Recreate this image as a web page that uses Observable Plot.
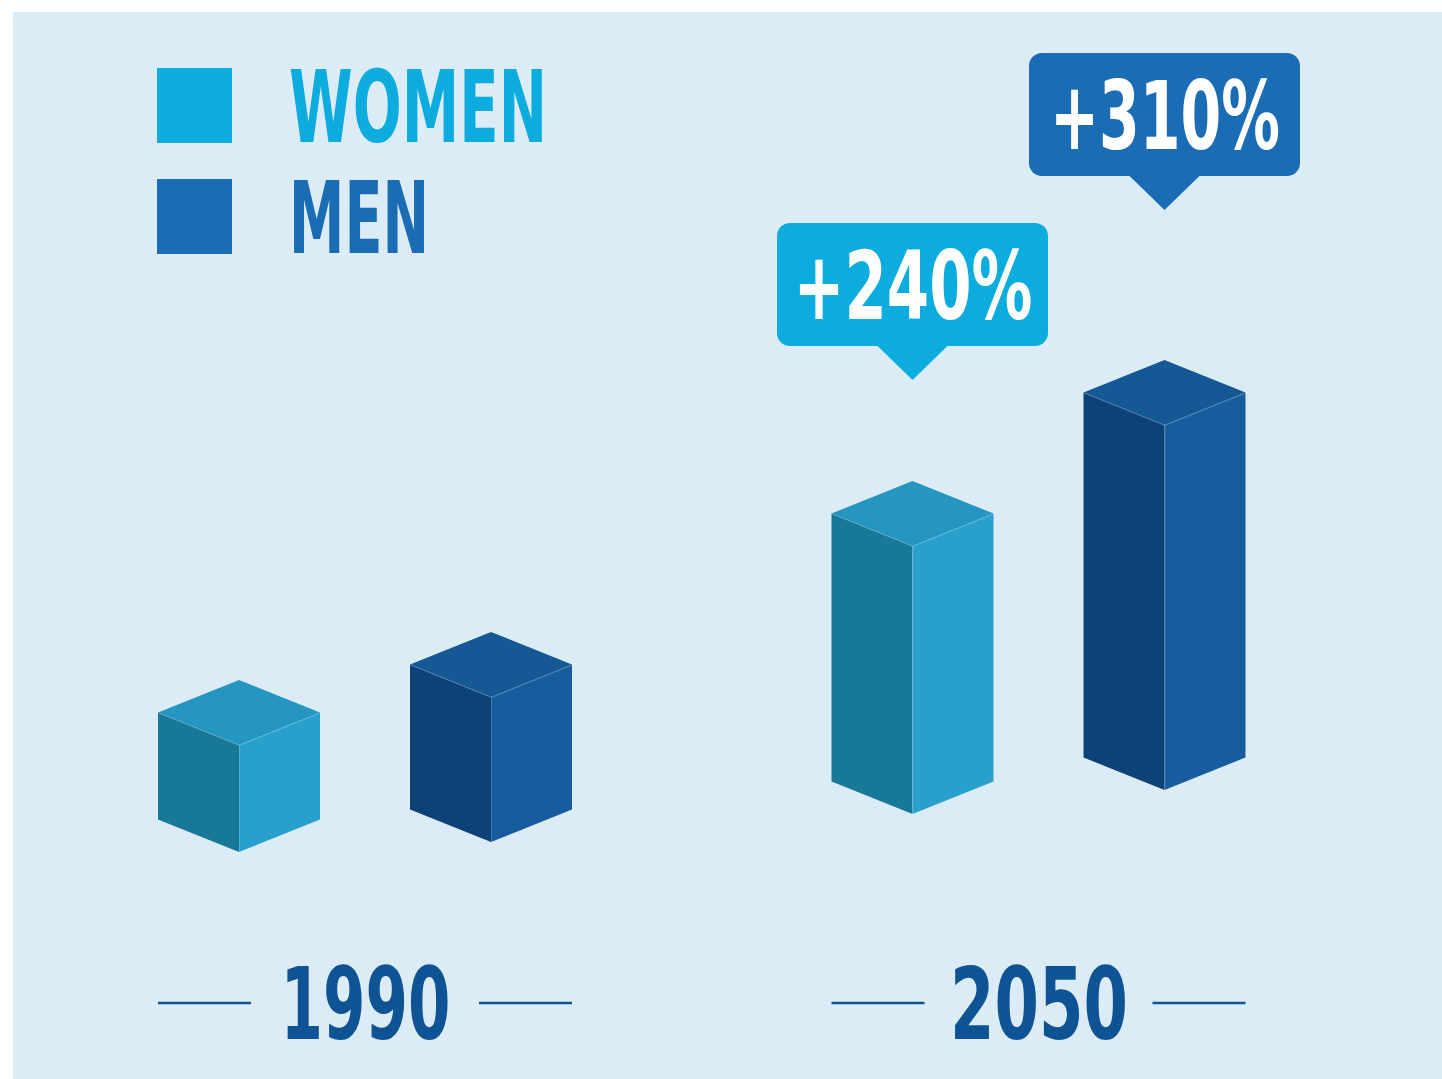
<!DOCTYPE html>
<html><head><meta charset="utf-8">
<script src="https://cdn.jsdelivr.net/npm/d3@7"></script>
<script src="https://cdn.jsdelivr.net/npm/@observablehq/plot@0.6"></script>
<style>
html,body{margin:0;padding:0;background:#fff;}
#wrap{position:relative;width:1442px;height:1079px;overflow:hidden;}
#panel{position:absolute;left:13px;top:12px;right:0;bottom:0;background:#DCECF7;}
#chart{position:absolute;left:0;top:0;}
#legend{position:absolute;left:0;top:0;}
</style></head><body>
<div id="wrap"><div id="panel"></div><div id="chart"></div><svg id="legend" width="720" height="300"></svg></div>
<script>
// ---- data ----
const years = ["1990", "2050"];
const series = ["WOMEN", "MEN"];
const women = [107, 268];          // bar heights (relative units)
const men = [145, 365];
const growthLabels = ["+240%", "+310%"]; // WOMEN, MEN change 1990 -> 2050

// ---- layout / style ----
const pxPerYear = 673.5;
const barOffset = 126 / pxPerYear, halfW = 81 / pxPerYear, depth = 32.5;
const floorLift = {WOMEN: [0, 38], MEN: [10, 62]};
const calloutGap = {WOMEN: 101, MEN: 150};
const boxHalfW = 135.5 / pxPerYear, boxH = 123, ptrH = 34, ptrHalfW = 36 / pxPerYear;
const yearY = -150.5;
const palette = {
  WOMEN: {key: "#0DACDE", left: "#177898", right: "#28A0CB", top: "#2496C1"},
  MEN:   {key: "#1A6CB4", left: "#0E4276", right: "#175C9D", top: "#145996"}
};
const yearColor = "#0E5494";
const textWidths = {"+240%": 239, "+310%": 230, "1990": 170, "2050": 178, "WOMEN": 258, "MEN": 140};
const condensed = "'Liberation Sans Narrow', 'DejaVu Sans Condensed', sans-serif";

const values = {WOMEN: women, MEN: men};
const bars = [];
years.forEach((yr, i) => series.forEach(s => {
  bars.push({year: yr, series: s, cx: i + (s === "WOMEN" ? -barOffset : barOffset),
             base: floorLift[s][i], value: values[s][i]});
}));

const faces = [];
const edges = [];
bars.forEach(b => {
  const t = b.base + b.value, id = b.year + b.series;
  const c = palette[b.series];
  faces.push(
    {id: id + "L", fill: c.left, x: b.cx - halfW, y1: b.base + depth, y2: t + depth},
    {id: id + "L", fill: c.left, x: b.cx, y1: b.base, y2: t},
    {id: id + "R", fill: c.right, x: b.cx, y1: b.base, y2: t},
    {id: id + "R", fill: c.right, x: b.cx + halfW, y1: b.base + depth, y2: t + depth},
    {id: id + "T", fill: c.top, x: b.cx - halfW, y1: t + depth, y2: t + depth},
    {id: id + "T", fill: c.top, x: b.cx, y1: t, y2: t + 2 * depth},
    {id: id + "T", fill: c.top, x: b.cx + halfW, y1: t + depth, y2: t + depth}
  );
  edges.push(
    {id: id + "a", x: b.cx - halfW, y: t + depth}, {id: id + "a", x: b.cx, y: t}, {id: id + "a", x: b.cx + halfW, y: t + depth},
    {id: id + "b", x: b.cx, y: t}, {id: id + "b", x: b.cx, y: b.base}
  );
});

// callouts on the 2050 bars
const callouts = bars.filter(b => b.year === years[1]).map(b => {
  const tip = b.base + b.value + 2 * depth + calloutGap[b.series];
  return {series: b.series, cx: b.cx, tip, fill: palette[b.series].key,
          label: growthLabels[series.indexOf(b.series)]};
});
const pointers = callouts.flatMap(c => [
  {id: c.series, fill: c.fill, x: c.cx - ptrHalfW, y1: c.tip + ptrH + 1, y2: c.tip + ptrH + 1},
  {id: c.series, fill: c.fill, x: c.cx, y1: c.tip, y2: c.tip + ptrH + 1},
  {id: c.series, fill: c.fill, x: c.cx + ptrHalfW, y1: c.tip + ptrH + 1, y2: c.tip + ptrH + 1}
]);

const gapIn = 114 / pxPerYear, gapOut = 207 / pxPerYear;
const yearRules = years.flatMap((yr, i) => [
  {x1: i - gapOut, x2: i - gapIn}, {x1: i + gapIn, x2: i + gapOut}
]);

const chart = Plot.plot({
  width: 1442, height: 1079,
  marginLeft: 365, marginRight: 403.5, marginTop: 0, marginBottom: 227,
  x: {domain: [0, 1], axis: null},
  y: {domain: [0, 852], axis: null},
  color: {type: "identity"},
  style: {background: "transparent", overflow: "visible"},
  marks: [
    Plot.areaY(faces, {x: "x", y1: "y1", y2: "y2", z: "id", fill: "fill", curve: "linear"}),
    Plot.line(edges, {x: "x", y: "y", z: "id", stroke: "#ffffff", strokeOpacity: 0.18, strokeWidth: 1}),
    Plot.areaY(pointers, {x: "x", y1: "y1", y2: "y2", z: "id", fill: "fill", curve: "linear"}),
    Plot.rect(callouts, {x1: c => c.cx - boxHalfW, x2: c => c.cx + boxHalfW,
      y1: c => c.tip + ptrH, y2: c => c.tip + ptrH + boxH, fill: "fill", rx: 13}),
    Plot.text(callouts, {x: "cx", y: c => c.tip + ptrH + boxH / 2, text: "label", fill: "white",
      fontSize: 95, fontWeight: "bold", fontFamily: condensed, textAnchor: "middle", dy: 4}),
    Plot.ruleY(yearRules, {y: yearY, x1: "x1", x2: "x2", stroke: yearColor, strokeWidth: 2.5}),
    Plot.text(years, {x: (d, i) => i, y: yearY, text: d => d, fill: yearColor,
      fontSize: 99, fontWeight: "bold", fontFamily: condensed, textAnchor: "middle", dy: 4})
  ]
});
document.getElementById("chart").appendChild(chart);

function fitText(node) {
  const targets = node.querySelectorAll("tspan").length ? node.querySelectorAll("tspan") : [node];
  targets.forEach(t => {
    const w = textWidths[t.textContent.trim()];
    if (w) { t.setAttribute("textLength", w); t.setAttribute("lengthAdjust", "spacingAndGlyphs"); }
  });
}
chart.querySelectorAll("text").forEach(fitText);

// legend
const leg = d3.select("#legend");
series.forEach((s, i) => {
  leg.append("rect").attr("x", 157).attr("y", 68 + i * 111).attr("width", 75).attr("height", 75)
    .attr("fill", palette[s].key);
  const t = leg.append("text").attr("x", 289).attr("y", 142 + i * 111).attr("fill", palette[s].key)
    .attr("font-family", condensed).attr("font-size", 100).attr("font-weight", "bold").text(s);
  fitText(t.node());
});
</script></body></html>
